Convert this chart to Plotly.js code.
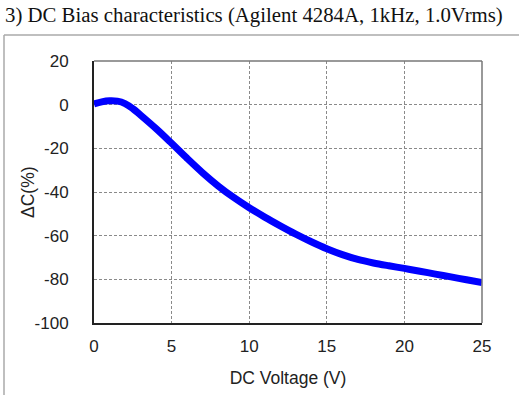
<!DOCTYPE html>
<html>
<head>
<meta charset="utf-8">
<script src="https://cdn.plot.ly/plotly-3.0.1.min.js"></script>
<style>
html,body{margin:0;padding:0;background:#fff;}
#chart{width:519px;height:395px;}
</style>
</head>
<body>
<div id="chart"></div>
<script>
// DC bias voltage (V)
const voltage = [0, 0.5, 1, 1.5, 2, 2.5, 3, 4, 5, 6, 7, 8, 9, 10, 11, 12, 13, 14, 15, 16, 17, 18, 19, 20, 21, 22, 23, 24, 25];
// Capacitance change (%)
const deltaC = [0.3, 1.3, 1.8, 1.6, 0.5, -1.8, -4.8, -11, -17.7, -24.6, -31.2, -37.2, -42.5, -47.2, -51.5, -55.5, -59.3, -62.8, -66.0, -68.7, -70.9, -72.5, -73.8, -75.0, -76.3, -77.6, -78.9, -80.2, -81.5];
const xTicks = [0, 5, 10, 15, 20, 25];
const yTicks = [-100, -80, -60, -40, -20, 0, 20];

const titleText = '3) DC Bias characteristics (Agilent 4284A, 1kHz, 1.0Vrms)';
const xTitle = 'DC Voltage (V)';
const yTitle = 'ΔC(%)';

const trace = {
  x: voltage, y: deltaC, type: 'scatter', mode: 'lines',
  line: {color: '#0000ff', width: 7, shape: 'spline', smoothing: 1},
  hoverinfo: 'skip'
};

const W = 519, H = 395, L = 94, R = 37, T = 61, B = 72;
const pw = W - L - R, ph = H - T - B;
const px = v => (v - L) / pw;          // page pixel -> paper x
const py = v => (H - B - v) / ph;      // page pixel -> paper y
const sans = '"Liberation Sans", Arial, sans-serif';

const layout = {
  width: W, height: H,
  margin: {l: L, r: R, t: T, b: B, pad: 0},
  paper_bgcolor: '#fff', plot_bgcolor: '#fff',
  showlegend: false,
  title: {
    text: titleText,
    font: {family: '"Liberation Serif", "Times New Roman", serif', size: 20.8, color: '#111'},
    x: 5 / W, xanchor: 'left', xref: 'container',
    y: 1 - 15 / H, yanchor: 'middle', yref: 'container'
  },
  xaxis: {
    range: [0, 25], tickvals: xTicks, ticktext: xTicks.map(String),
    showgrid: true, gridcolor: '#8a8a8a', griddash: '3px,2px', gridwidth: 1,
    zeroline: false, showline: true, linecolor: '#222', linewidth: 2,
    ticks: '', ticklabelstandoff: 7,
    tickfont: {family: sans, size: 17, color: '#222'},
    title: {text: xTitle, standoff: 16, font: {family: sans, size: 17.5, color: '#222'}},
    fixedrange: true
  },
  yaxis: {
    range: [-100, 20], tickvals: yTicks, ticktext: yTicks.map(String),
    showgrid: true, gridcolor: '#8a8a8a', griddash: '3px,2px', gridwidth: 1,
    zeroline: false, showline: true, linecolor: '#222', linewidth: 2,
    ticks: '', ticklabelstandoff: 20,
    tickfont: {family: sans, size: 17, color: '#222'},
    fixedrange: true
  },
  annotations: [
    {text: yTitle, textangle: -90, xref: 'paper', yref: 'paper',
     x: px(28), y: py(192), xanchor: 'center', yanchor: 'middle', showarrow: false,
     font: {family: sans, size: 17.5, color: '#222'}}
  ],
  shapes: [
    // plot frame top/right (gray)
    {type: 'line', xref: 'paper', yref: 'paper', x0: 0, x1: 1, y0: 1, y1: 1, line: {color: '#777', width: 1.5}},
    {type: 'line', xref: 'paper', yref: 'paper', x0: 1, x1: 1, y0: 0, y1: 1, line: {color: '#777', width: 1.5}},
    // outer box top and left borders
    {type: 'line', xref: 'paper', yref: 'paper', x0: px(4), x1: px(519), y0: py(35), y1: py(35), line: {color: '#aaa', width: 1.5}},
    {type: 'line', xref: 'paper', yref: 'paper', x0: px(4), x1: px(4), y0: py(35), y1: py(395), line: {color: '#aaa', width: 1.5}}
  ]
};

Plotly.newPlot('chart', [trace], layout, {displayModeBar: false, staticPlot: true});
</script>
</body>
</html>
